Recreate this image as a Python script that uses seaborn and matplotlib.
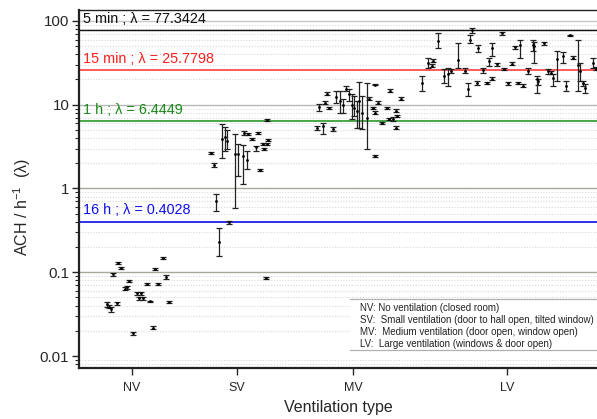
import numpy as np
import pandas as pd
import matplotlib
matplotlib.use("Agg")
import matplotlib.pyplot as plt
from matplotlib.ticker import FixedLocator, FixedFormatter, NullFormatter, LogLocator
import seaborn as sns

# ---------------- data ----------------
categories = ["NV", "SV", "MV", "LV"]
category_pos = [10.6, 31.6, 54.8, 85.6]

nv_x = [5.6, 6.0, 6.4, 6.8, 7.6, 7.8, 8.4, 9.2, 9.6, 10.0, 10.8, 11.6, 12.0, 12.4, 12.8,
        13.6, 14.2, 14.8, 15.2, 15.8, 16.8, 17.4, 18.0]
nv_y = [0.0414, 0.039, 0.036, 0.0946, 0.0425, 0.128, 0.112, 0.064, 0.066, 0.078, 0.0186,
        0.056, 0.049, 0.056, 0.049, 0.072, 0.045, 0.0219, 0.109, 0.072, 0.147, 0.087, 0.0438]
nv_lo = [0.039, 0.037, 0.034, 0.091, 0.041, 0.124, 0.108, 0.061, 0.063, 0.076, 0.018,
         0.054, 0.047, 0.054, 0.047, 0.070, 0.044, 0.0212, 0.106, 0.070, 0.143, 0.082, 0.0425]
nv_hi = [0.044, 0.041, 0.038, 0.098, 0.044, 0.132, 0.116, 0.067, 0.069, 0.080, 0.0192,
         0.058, 0.051, 0.058, 0.051, 0.074, 0.046, 0.0226, 0.112, 0.074, 0.151, 0.094, 0.0452]

sv_x = [26.4, 27.0, 27.4, 28.0, 28.6, 29.2, 29.6, 30.0, 31.2, 31.8, 32.8, 33.0, 33.6, 33.8,
        34.6, 35.4, 35.8, 36.2, 36.8, 37.0, 37.6, 37.8, 37.6, 37.4]
sv_y = [2.66, 1.91, 0.70, 0.23, 3.92, 4.14, 3.7, 0.40, 2.59, 2.6, 2.45, 4.6, 2.2, 4.5,
        3.9, 3.1, 4.6, 1.66, 3.41, 2.97, 3.41, 3.8, 6.6, 0.085]
sv_lo = [2.6, 1.8, 0.54, 0.156, 2.32, 2.81, 2.97, 0.38, 0.58, 1.41, 1.13, 4.4, 1.71, 4.35,
         3.75, 2.81, 4.45, 1.6, 3.3, 2.88, 3.3, 3.7, 6.45, 0.083]
sv_hi = [2.75, 2.0, 0.86, 0.336, 5.92, 5.46, 5.0, 0.41, 4.5, 3.41, 3.3, 4.8, 2.81, 4.65,
         4.05, 3.23, 4.75, 1.72, 3.52, 3.06, 3.52, 3.9, 6.75, 0.087]

mv_x = [47.6, 48.0, 48.8, 49.2, 49.6, 50.0, 50.8, 51.4, 52.2, 52.8, 53.4, 54.0, 54.6, 55.0,
        55.6, 56.0, 56.6, 57.6, 58.0, 58.8, 59.2, 59.2, 59.2, 59.8, 60.6, 61.6, 62.2, 62.0,
        62.8, 63.6, 63.4, 64.4, 63.4]
mv_y = [5.3, 9.46, 5.6, 10.6, 13.5, 9.2, 5.16, 12.5, 11.2, 10.0, 15.6, 13.5, 10.0, 9.2,
        8.5, 11.0, 8.0, 7.0, 11.8, 9.2, 8.0, 17.4, 2.45, 10.6, 6.1, 9.2, 14.7, 6.8,
        6.8, 7.4, 8.5, 11.8, 5.3]
mv_lo = [5.0, 8.47, 4.5, 10.2, 13.0, 8.9, 4.9, 10.6, 8.02, 8.02, 14.7, 11.2, 6.8, 7.38,
         5.3, 5.3, 5.16, 2.97, 11.4, 8.9, 7.7, 17.0, 2.4, 10.2, 5.9, 8.9, 14.2, 6.6,
         6.4, 7.2, 8.2, 11.4, 5.1]
mv_hi = [5.6, 10.3, 6.1, 11.0, 14.0, 9.5, 5.4, 14.7, 14.7, 11.8, 16.5, 15.6, 13.5, 12.8,
         11.2, 18.9, 12.8, 18.3, 12.2, 9.5, 8.3, 17.8, 2.5, 11.0, 6.3, 9.5, 15.2, 7.0,
         7.2, 7.6, 8.8, 12.2, 5.5]

lv_x = [68.6, 69.8, 70.6, 70.8, 71.8, 73.0, 73.8, 74.4, 75.8, 77.2, 77.8, 78.2, 78.6, 79.8,
        79.6, 80.8, 81.6, 82.0, 82.6, 83.6, 82.6, 84.6, 85.0, 85.8, 86.6, 87.2, 88.2, 87.8,
        88.8, 89.8, 90.8, 91.0, 91.6, 91.8, 93.0, 93.8, 94.4, 94.8, 95.6, 96.8, 97.4, 98.2,
        98.8, 99.8, 100.2, 100.8, 101.2, 102.8, 103.4]
lv_y = [18.3, 31.8, 29.3, 33.6, 58.0, 22.2, 23.5, 25.5, 34.0, 25.5, 15.6, 58.4, 76.9, 46.9,
        18.3, 26.0, 18.3, 33.6, 46.9, 31.0, 20.5, 70.8, 26.5, 18.0, 31.0, 48.2, 50.9, 18.3,
        16.9, 25.5, 50.9, 50.0, 20.5, 19.4, 53.8, 25.5, 24.2, 21.0, 35.0, 38.6, 16.9, 67.0,
        36.5, 30.0, 25.0, 18.0, 16.0, 31.8, 27.0]
lv_lo = [14.7, 27.7, 28.3, 32.5, 46.9, 18.3, 16.9, 24.2, 27.7, 24.2, 12.8, 53.8, 70.8, 42.0,
         17.0, 24.2, 17.7, 29.3, 38.6, 29.3, 19.8, 68.0, 25.6, 17.4, 30.0, 46.6, 36.5, 17.7,
         16.3, 23.5, 44.3, 31.8, 13.9, 17.0, 52.0, 23.5, 23.5, 16.9, 19.4, 31.8, 14.7, 66.0,
         35.3, 14.7, 19.4, 16.9, 13.9, 27.7, 26.1]
lv_hi = [22.2, 35.6, 30.3, 34.7, 70.8, 27.0, 27.7, 27.0, 53.8, 27.7, 18.3, 67.0, 81.3, 50.9,
         19.4, 27.7, 18.9, 36.5, 53.8, 31.8, 21.2, 73.0, 27.4, 18.6, 32.0, 49.8, 58.4, 18.9,
         17.5, 27.7, 58.4, 55.3, 22.2, 20.5, 56.0, 27.0, 25.5, 23.5, 44.3, 42.0, 19.4, 68.0,
         37.7, 58.4, 31.8, 19.4, 17.8, 36.5, 27.9]

ref_values = [77.3424, 25.7798, 6.4449, 0.4028]
ref_labels = ["5 min ; \u03bb = 77.3424", "15 min ; \u03bb = 25.7798",
              "1 h ; \u03bb = 6.4449", "16 h ; \u03bb = 0.4028"]
ref_colors = ["#111111", "#ff4d4d", "#3aa03a", "#2020ee"]
ref_text_colors = ["#111111", "#ff2020", "#1a8a1a", "#1010ee"]

legend_lines = ["NV: No ventilation (closed room)",
                "SV:  Small ventilation (door to hall open, tilted window)",
                "MV:  Medium ventilation (door open, window open)",
                "LV:  Large ventilation (windows & door open)"]

# ---------------- build frame ----------------
groups = [(categories[0], nv_x, nv_y, nv_lo, nv_hi),
          (categories[1], sv_x, sv_y, sv_lo, sv_hi),
          (categories[2], mv_x, mv_y, mv_lo, mv_hi),
          (categories[3], lv_x, lv_y, lv_lo, lv_hi)]
frames = []
for name, xs, ys, los, his in groups:
    frames.append(pd.DataFrame({"type": name, "x": xs, "y": ys, "lo": los, "hi": his}))
df = pd.concat(frames, ignore_index=True)

# ---------------- plot ----------------
sns.set_theme(style="white")
plt.rcParams["font.family"] = ["Liberation Sans", "DejaVu Sans"]
plt.rcParams["mathtext.fontset"] = "custom"
plt.rcParams["mathtext.rm"] = "Liberation Sans"
plt.rcParams["mathtext.it"] = "Liberation Sans:italic"

fig = plt.figure(figsize=(5.97, 4.19), dpi=100)
ax = fig.add_axes([79 / 597, 51 / 419, 1 - 79 / 597 + 0.002, 358 / 419])
ax.set_yscale("log")
ax.set_xlim(0, 103.8)
ax.set_ylim(0.0072, 135)

# minor dotted grid
for dec in [0.001, 0.01, 0.1, 1, 10, 100]:
    for k in range(2, 10):
        v = dec * k
        if 0.0072 < v < 135:
            ax.axhline(v, color="#d8d8d8", lw=0.8, ls=(0, (1, 1.5)), zorder=0)
# decade lines
ax.axhline(100, color="#c8c8c8", lw=1.0, zorder=1)
ax.axhline(10, color="#b8b8b8", lw=1.0, zorder=1)
ax.axhline(1, color="#a8a898", lw=1.0, zorder=1)
ax.axhline(0.1, color="#a8a898", lw=1.0, zorder=1)

# reference lines + labels
for v, lab, c, tc in zip(ref_values, ref_labels, ref_colors, ref_text_colors):
    ax.axhline(v, color=c, lw=1.3 if c != "#111111" else 1.0, zorder=2)
    ax.text(0.8, v * 1.12, lab, color=tc, fontsize=10.4, ha="left", va="bottom", zorder=5)

# error bars
yerr = np.vstack([df["y"] - df["lo"], df["hi"] - df["y"]])
ax.errorbar(df["x"], df["y"], yerr=yerr, fmt="none", ecolor="#222222",
            elinewidth=0.9, capsize=2.5, capthick=0.9, zorder=3)
sns.scatterplot(data=df, x="x", y="y", color="black", s=4, linewidth=0,
                ax=ax, zorder=4, legend=False)

# legend box (text)
box_ax = fig.add_axes([350 / 597, (419 - 350) / 419, 247 / 597, 51 / 419])
box_ax.set_xlim(0, 1)
box_ax.set_ylim(0, 1)
box_ax.set_facecolor("white")
for s in ["left", "right"]:
    box_ax.spines[s].set_visible(False)
for s in ["top", "bottom"]:
    box_ax.spines[s].set_color("#b0b0b0")
    box_ax.spines[s].set_linewidth(0.9)
box_ax.set_xticks([])
box_ax.set_yticks([])
for i, line in enumerate(legend_lines):
    box_ax.text(0.04, 0.82 - i * 0.235, line, fontsize=7, va="center", ha="left",
                color="#222222")

# axes styling
ax.yaxis.set_major_locator(FixedLocator([0.01, 0.1, 1, 10, 100]))
ax.yaxis.set_major_formatter(FixedFormatter(["0.01", "0.1", "1", "10", "100"]))
ax.yaxis.set_minor_locator(LogLocator(base=10, subs=np.arange(2, 10)))
ax.yaxis.set_minor_formatter(NullFormatter())
ax.set_xticks(category_pos)
ax.set_xticklabels(categories)
ax.tick_params(axis="y", which="major", direction="out", length=5, width=1,
               labelsize=10.8, left=True, pad=2)
ax.tick_params(axis="y", which="minor", direction="out", length=3, width=0.8, left=True)
ax.tick_params(axis="x", which="major", direction="out", length=5, width=1,
               labelsize=9, bottom=True, pad=5)
for s in ["left", "bottom"]:
    ax.spines[s].set_color("#222222")
    ax.spines[s].set_linewidth(1.6)
ax.spines["top"].set_color("#222222")
ax.spines["top"].set_linewidth(1.0)
ax.spines["right"].set_visible(False)

ax.set_xlabel("Ventilation type", fontsize=11.5)
ax.xaxis.set_label_coords(0.5, -0.088)
ax.set_ylabel("ACH / h$^{-1}$  (\u03bb)", fontsize=11.5)
ax.yaxis.set_label_coords(-0.089, 0.45)

fig.savefig("out.png", dpi=100)
